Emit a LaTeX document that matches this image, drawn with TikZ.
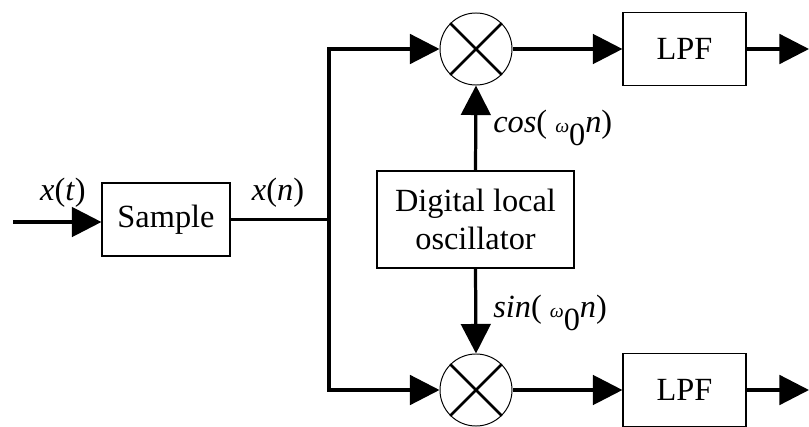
\documentclass[tikz,border=0pt]{standalone}
\usepackage{fontspec}
\setmainfont{Liberation Serif}
\usetikzlibrary{arrows.meta}

\newcommand{\omn}{{\fontsize{14}{18}\selectfont\itshape ω}\raisebox{-0.4em}{0}\textit{n}}

\begin{document}
\begin{tikzpicture}[x=0.025cm, y=-0.025cm,
        every node/.style={font=\fontsize{23}{27}\selectfont},
        block/.style={draw, line width=0.8pt, align=center, inner sep=0pt},
        mixer/.style={draw, circle, line width=0.7pt, minimum size=1.8cm, inner sep=0pt},
        lbl/.style={inner sep=0pt},
        wire/.style={line width=2.3pt},
        sig/.style={wire, -{Triangle[length=21pt, width=21pt]}}]
    \useasboundingbox (0,0) rectangle (809,427);

    \node[block, minimum width=3.2cm, minimum height=1.825cm] (sample) at (166,219.5) {Sample};
    \node[block, minimum width=4.925cm, minimum height=2.425cm] (osc) at (475.5,219.5) {Digital local\\oscillator};
    \node[mixer] (mixT) at (476,49) {};
    \node[mixer] (mixB) at (476,390) {};
    \node[block, minimum width=3.075cm, minimum height=1.825cm] (lpfT) at (684.5,49) {LPF};
    \node[block, minimum width=3.075cm, minimum height=1.825cm] (lpfB) at (684.5,390) {LPF};

    \draw[line width=1.8pt] (mixT.north west) -- (mixT.south east) (mixT.north east) -- (mixT.south west);
    \draw[line width=1.8pt] (mixB.north west) -- (mixB.south east) (mixB.north east) -- (mixB.south west);

    \coordinate (in) at (13,222);
    \coordinate (split) at (329,219.5);
    \coordinate (outT) at (809,49);
    \coordinate (outB) at (809,390);

    \draw[sig] (in) -- (in -| sample.west);
    \draw[wire] (sample.east) -- (split);
    \draw[sig] (split) |- (mixT.west);
    \draw[sig] (split) |- (mixB.west);
    \draw[sig] (osc.north) -- (mixT.south);
    \draw[sig] (osc.south) -- (mixB.north);
    \draw[sig] (mixT.east) -- (lpfT.west);
    \draw[sig] (mixB.east) -- (lpfB.west);
    \draw[sig] (lpfT.east) -- (outT);
    \draw[sig] (lpfB.east) -- (outB);

    \node[lbl] (xt) at (63,193) {\textit{x}(\textit{t})};
    \node[lbl] (xn) at (278,193) {\textit{x}(\textit{n})};
    \node[lbl, anchor=west] (cosl) at (493,128) {\textit{cos}( \omn)};
    \node[lbl, anchor=west] (sinl) at (493,313) {\textit{sin}( \omn)};
\end{tikzpicture}
\end{document}
